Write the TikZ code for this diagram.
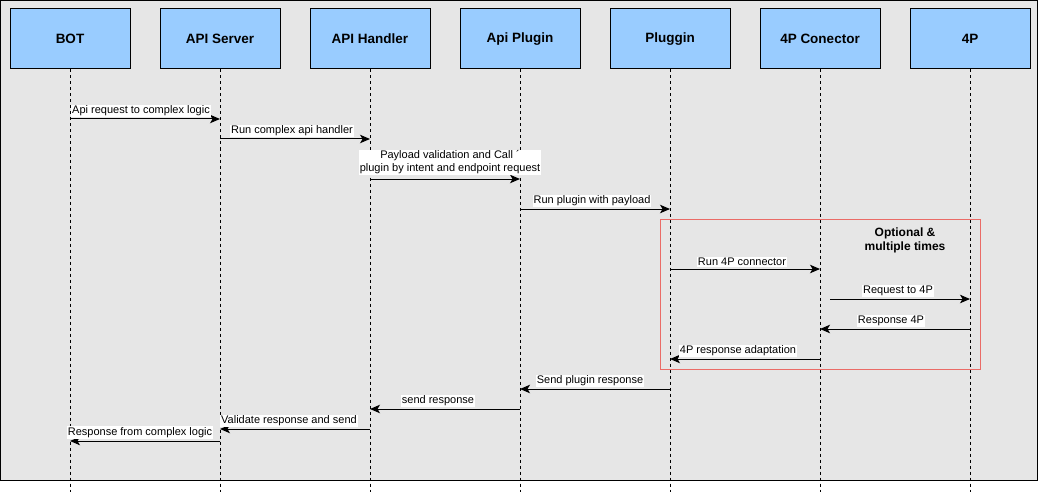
\documentclass[tikz,border=0pt]{standalone}
\usepackage{fontspec}
\setmainfont{Liberation Sans}
\usetikzlibrary{arrows.meta}
\definecolor{bgc}{HTML}{E6E6E6}
\definecolor{actc}{HTML}{99CCFF}
\definecolor{optc}{HTML}{EA6B66}
\begin{document}
\begin{tikzpicture}[x=1pt,y=-1pt,
  actor/.style={draw=black, fill=actc, line width=1pt, minimum width=120pt, minimum height=60pt, inner sep=0pt, font=\fontsize{13.5}{15}\selectfont\bfseries},
  life/.style={draw=black, line width=0.8pt, dash pattern=on 3pt off 3pt},
  msg/.style={draw=black, line width=1pt, -{Stealth[length=10pt,width=8.5pt,inset=2.5pt]}},
  lbl/.style={fill=white, inner sep=1pt, font=\fontsize{11}{13}\selectfont, anchor=south, yshift=1.5pt},
  opt/.style={draw=optc, line width=0.8pt},
  opttxt/.style={font=\fontsize{12}{14}\selectfont\bfseries, align=center}]
\useasboundingbox (0,0) rectangle (1041,492);
\draw[fill=bgc, line width=1.2pt] (0.6,0.6) rectangle (1037.4,480.4);
% actors
\node[actor] (b1) at (70,39) {BOT};
\node[actor] (b2) at (220,39) {API Server};
\node[actor] (b3) at (370,39) {API Handler};
\node[actor] (b4) at (520,39) {Api Plugin};
\node[actor] (b5) at (670,39) {Pluggin};
\node[actor] (b6) at (820,39) {4P Conector};
\node[actor] (b7) at (970,39) {4P};
% lifelines
\foreach \i/\x in {1/70,2/220,3/370,4/520,5/670,6/820,7/970}{
  \coordinate (e\i) at (\x,492);
  \draw[life] (b\i.south) -- (e\i);
}
% optional frame
\draw[opt] (660.5,219.5) rectangle (980.5,369.5);
\node[opttxt] (optl) at (905,240) {Optional \&\\multiple times};
% message coordinates
\coordinate (m1a) at (70,119);  \coordinate (m1b) at (220,119);
\coordinate (m2a) at (220,139); \coordinate (m2b) at (370,139);
\coordinate (m3a) at (370,179); \coordinate (m3b) at (520,179);
\coordinate (m4a) at (520,209); \coordinate (m4b) at (670,209);
\coordinate (m5a) at (670,269); \coordinate (m5b) at (820,269);
\coordinate (m6a) at (830,299); \coordinate (m6b) at (970,299);
\coordinate (m7a) at (970,329); \coordinate (m7b) at (820,329);
\coordinate (m8a) at (820,359); \coordinate (m8b) at (670,359);
\coordinate (m9a) at (670,389); \coordinate (m9b) at (520,389);
\coordinate (m10a) at (520,409); \coordinate (m10b) at (370,409);
\coordinate (m11a) at (370,429); \coordinate (m11b) at (220,429);
\coordinate (m12a) at (220,441); \coordinate (m12b) at (70,441);
% messages
\draw[msg] (m1a) -- node[lbl, xshift=-4pt] {Api request to complex logic} (m1b);
\draw[msg] (m2a) -- node[lbl, xshift=-3pt] {Run complex api handler} (m2b);
\draw[msg] (m3a) -- node[lbl, align=center, xshift=5pt, inner xsep=1pt, yshift=2pt] {Payload validation and Call \char"00B4\\plugin by intent and endpoint request} (m3b);
\draw[msg] (m4a) -- node[lbl, xshift=-3pt] {Run plugin with payload} (m4b);
\draw[msg] (m5a) -- node[lbl, xshift=-3pt] {Run 4P connector} (m5b);
\draw[msg] (m6a) -- node[lbl, xshift=-2pt] {Request to 4P} (m6b);
\draw[msg] (m7a) -- node[lbl, xshift=-4pt] {Response 4P} (m7b);
\draw[msg] (m8a) -- node[lbl, xshift=-7pt] {4P response adaptation} (m8b);
\draw[msg] (m9a) -- node[lbl, xshift=-5pt] {Send plugin response} (m9b);
\draw[msg] (m10a) -- node[lbl, xshift=-7pt] {send response} (m10b);
\draw[msg] (m11a) -- node[lbl, xshift=-6pt] {Validate response and send} (m11b);
\draw[msg] (m12a) -- node[lbl, xshift=-5pt, yshift=0.5pt] {Response from complex logic} (m12b);
\end{tikzpicture}
\end{document}
